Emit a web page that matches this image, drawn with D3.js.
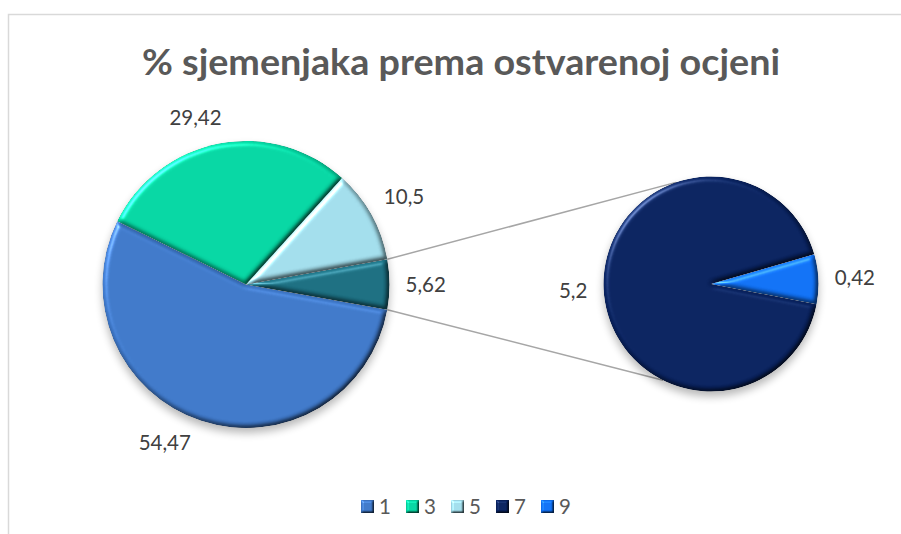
<!DOCTYPE html>
<html><head><meta charset="utf-8">
<script src="https://cdn.jsdelivr.net/npm/d3@7"></script>
<style>html,body{margin:0;padding:0;background:#fff;}svg{display:block;}</style>
</head><body>
<svg id="chart" width="901" height="534"></svg>
<script>
// ---- data ----
const titleText = "% sjemenjaka prema ostvarenoj ocjeni";
const categories = ["1", "3", "5", "7", "9"];
const values = [54.47, 29.42, 10.5, 5.2, 0.42];
const secondaryCount = 2; // last two categories go to the secondary pie
const colors = ["#3D76C6", "#04D3A0", "#9FDAE8", "#08215D", "#0F6FF2"];
const otherColor = "#1A6C7E";

// ---- layout ----
const W = 901, H = 534;
const mainC = {x: 246, y: 284.5, r: 143.5};
const secC = {x: 711, y: 284, r: 107.5};
const secRotation = -2.6 * Math.PI / 180;
const labelGap = 16;
const mainLabelNudge = [9, -6, 0, 0]; // degrees, Excel best-fit shifts
const connectorAngles = [-19 * Math.PI / 180, 206.5 * Math.PI / 180];
const fmt = v => String(Math.round(v * 100) / 100).replace(".", ",");

const svg = d3.select("#chart");
const defs = svg.append("defs");

function bevel(id, sd, scale) {
  const f = defs.append("filter").attr("id", id)
    .attr("x", "-10%").attr("y", "-10%").attr("width", "120%").attr("height", "120%")
    .attr("color-interpolation-filters", "sRGB");
  f.append("feGaussianBlur").attr("in", "SourceAlpha").attr("stdDeviation", sd).attr("result", "blur");
  const sp = f.append("feSpecularLighting").attr("in", "blur").attr("surfaceScale", scale)
    .attr("specularConstant", 0.7).attr("specularExponent", 30).attr("lighting-color", "#fff").attr("result", "spec");
  sp.append("feDistantLight").attr("azimuth", 225).attr("elevation", 40);
  f.append("feComposite").attr("in", "spec").attr("in2", "SourceAlpha").attr("operator", "in").attr("result", "specIn");
  const df = f.append("feDiffuseLighting").attr("in", "blur").attr("surfaceScale", scale)
    .attr("diffuseConstant", 1).attr("lighting-color", "#fff").attr("result", "diff");
  df.append("feDistantLight").attr("azimuth", 225).attr("elevation", 60);
  f.append("feComposite").attr("in", "SourceGraphic").attr("in2", "diff").attr("operator", "arithmetic")
    .attr("k1", 1.155).attr("k2", 0).attr("k3", 0).attr("k4", 0).attr("result", "shaded");
  f.append("feComposite").attr("in", "shaded").attr("in2", "specIn").attr("operator", "arithmetic")
    .attr("k1", 0).attr("k2", 1).attr("k3", 0.55).attr("k4", 0).attr("result", "lit");
  f.append("feComposite").attr("in", "lit").attr("in2", "SourceAlpha").attr("operator", "in");
}
bevel("bevel", 2.5, 3);
bevel("bevelSmall", 1.2, 2);
defs.append("filter").attr("id", "shadow").attr("x", "-20%").attr("y", "-20%").attr("width", "140%").attr("height", "140%")
  .append("feGaussianBlur").attr("stdDeviation", 4);

// frame
svg.append("rect").attr("x", 8.5).attr("y", 14.5).attr("width", W).attr("height", H)
  .attr("fill", "#fff").attr("stroke", "#d9d9d9").attr("stroke-width", 1.5);

// title
svg.append("text").attr("x", 461).attr("y", 75).attr("text-anchor", "middle")
  .attr("font-family", "Lato, 'Open Sans', sans-serif").attr("font-weight", "bold")
  .attr("font-size", 36.5).attr("fill", "#595959")
  .attr("textLength", 638).attr("lengthAdjust", "spacingAndGlyphs").text(titleText);

// data split
const nMain = categories.length - secondaryCount;
const mainData = categories.slice(0, nMain).map((c, i) => ({cat: c, value: values[i], color: colors[i]}));
const otherValue = d3.sum(values.slice(nMain));
mainData.push({cat: "other", value: otherValue, color: otherColor, other: true});
const secData = categories.slice(nMain).map((c, i) => ({cat: c, value: values[nMain + i], color: colors[nMain + i]}));

const total = d3.sum(mainData, d => d.value);
const otherFrac = otherValue / total;
const mainStart = Math.PI / 2 + otherFrac * Math.PI;
const mainPie = d3.pie().sort(null).value(d => d.value).startAngle(mainStart).endAngle(mainStart + 2 * Math.PI);
const mainArcs = mainPie(mainData);

const secTotal = d3.sum(secData, d => d.value);
const lastFrac = secData[secData.length - 1].value / secTotal;
const secStart = Math.PI / 2 + lastFrac * Math.PI + secRotation;
const secPie = d3.pie().sort(null).value(d => d.value).startAngle(secStart).endAngle(secStart + 2 * Math.PI);
const secArcs = secPie(secData);

const pt = (c, r, a) => [c.x + r * Math.sin(a), c.y - r * Math.cos(a)];

// connector lines
const otherArc = mainArcs[mainArcs.length - 1];
const conn = [
  [pt(mainC, mainC.r, otherArc.startAngle), pt(secC, secC.r, connectorAngles[0])],
  [pt(mainC, mainC.r, otherArc.endAngle), pt(secC, secC.r, connectorAngles[1])]
];
svg.append("g").selectAll("line").data(conn).join("line")
  .attr("x1", d => d[0][0]).attr("y1", d => d[0][1]).attr("x2", d => d[1][0]).attr("y2", d => d[1][1])
  .attr("stroke", "#a6a6a6").attr("stroke-width", 1.5);

function drawPie(c, arcs) {
  const g = svg.append("g").attr("transform", `translate(${c.x},${c.y})`);
  g.append("circle").attr("cx", 0).attr("cy", 5).attr("r", c.r).attr("fill", "#000")
    .attr("opacity", 0.28).attr("filter", "url(#shadow)");
  const arc = d3.arc().innerRadius(0).outerRadius(c.r);
  g.selectAll("path.slice").data(arcs).join("path").attr("class", "slice")
    .attr("d", arc).attr("fill", d => d.data.color).attr("filter", "url(#bevel)");
  return g;
}
drawPie(mainC, mainArcs);
drawPie(secC, secArcs);

// labels
const labelFont = "Lato, 'Open Sans', sans-serif";
const labelSize = 20.5;
function placeLabels(c, arcs, nudges) {
  const g = svg.append("g");
  arcs.forEach((a, i) => {
    const ang = (a.startAngle + a.endAngle) / 2 + (nudges ? nudges[i] : 0) * Math.PI / 180;
    const t = g.append("text").attr("font-family", labelFont).attr("font-size", labelSize)
      .attr("fill", "#404040").attr("text-anchor", "middle").attr("dy", "0.36em").text(fmt(a.data.value));
    const w = t.node().getComputedTextLength();
    const hh = labelSize * 0.36;
    const proj = (w / 2) * Math.abs(Math.sin(ang)) + hh * Math.abs(Math.cos(ang));
    const p = pt(c, c.r + labelGap + proj, ang);
    t.attr("x", p[0]).attr("y", p[1]);
  });
}
placeLabels(mainC, mainArcs, mainLabelNudge);
placeLabels(secC, secArcs, null);

// legend
const legX0 = 361, legStep = 45, legY = 500, sq = 13;
const leg = svg.append("g").selectAll("g").data(categories).join("g")
  .attr("transform", (d, i) => `translate(${legX0 + i * legStep},${legY})`);
leg.append("rect").attr("width", sq).attr("height", sq).attr("fill", (d, i) => colors[i]).attr("filter", "url(#bevelSmall)");
leg.append("text").attr("x", sq + 5).attr("y", sq / 2).attr("dy", "0.36em")
  .attr("font-family", labelFont).attr("font-size", 20.5).attr("fill", "#595959").text(d => d);
</script>
</body></html>
